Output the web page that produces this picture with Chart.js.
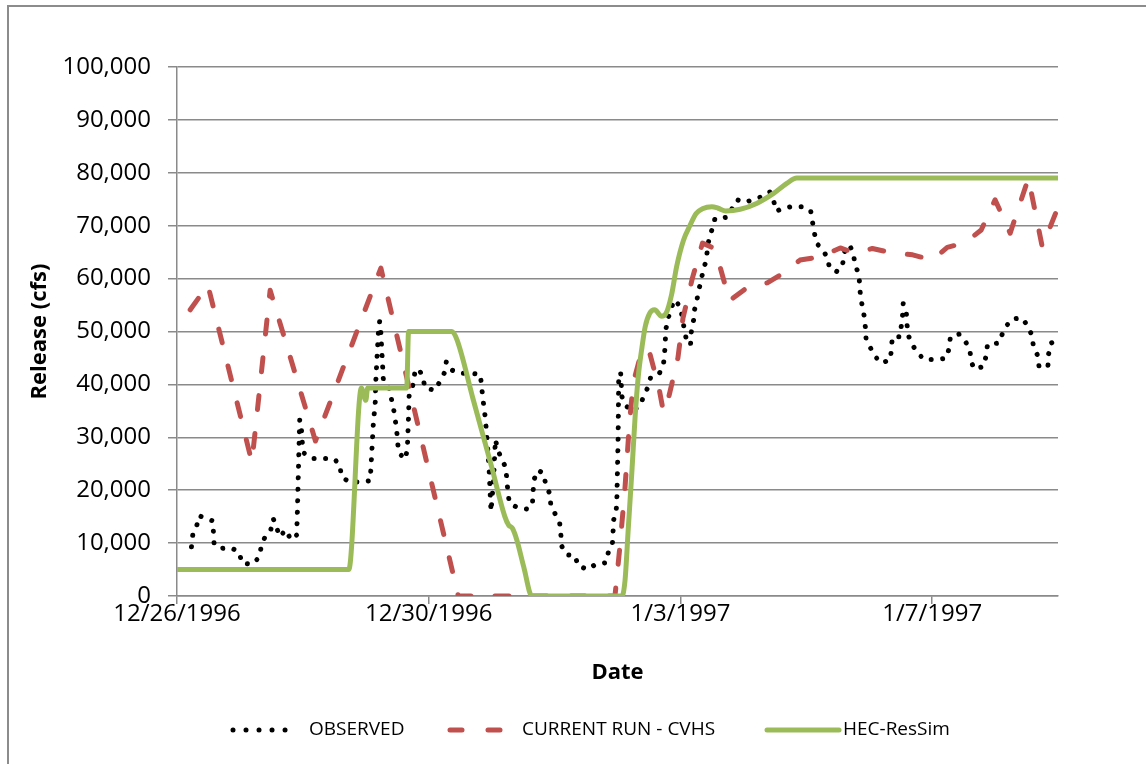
<!DOCTYPE html>
<html>
<head>
<meta charset="utf-8">
<script src="https://cdn.jsdelivr.net/npm/chart.js@4.4.0/dist/chart.umd.min.js"></script>
<style>
body { margin: 0; background: #fff; }
#wrap { position: relative; width: 1146px; height: 764px; overflow: hidden; background: #fff; }
#frame { position: absolute; left: 7px; top: 5px; width: 1200px; height: 900px;
         border-left: 2px solid #8c8c8c; border-top: 2px solid #8c8c8c; }
canvas { position: absolute; left: 0; top: 0; }
</style>
</head>
<body>
<div id="wrap">
  <div id="frame"></div>
  <canvas id="releaseChart" width="1146" height="764"></canvas>
</div>
<script>
// days after 12/26/1996, release in cfs
var xTickLabels = ['12/26/1996', '12/30/1996', '1/3/1997', '1/7/1997'];

var obsDays = [0.23, 0.25, 0.31, 0.35, 0.43, 0.57, 0.58, 0.59, 0.68, 0.86, 0.99, 1.03, 1.20, 1.31, 1.34, 1.40,
    1.49, 1.53, 1.58, 1.63, 1.73, 1.81, 1.90, 1.91, 1.93, 1.95, 1.97, 2.00, 2.02, 2.13, 2.30, 2.49, 2.59, 2.61,
    2.73, 2.92, 3.07, 3.09, 3.12, 3.15, 3.16, 3.18, 3.20, 3.22, 3.24, 3.26, 3.28, 3.37, 3.44, 3.49, 3.52, 3.62,
    3.66, 3.68, 3.69, 3.76, 3.78, 3.84, 3.91, 3.94, 4.10, 4.18, 4.25, 4.28, 4.35, 4.48, 4.67, 4.82, 4.86, 4.90,
    4.93, 4.96, 4.98, 4.99, 5.03, 5.06, 5.10, 5.17, 5.23, 5.24, 5.26, 5.28, 5.41, 5.59, 5.65, 5.66, 5.68, 5.74,
    5.83, 5.86, 5.93, 5.94, 6.01, 6.08, 6.10, 6.11, 6.19, 6.33, 6.37, 6.53, 6.65, 6.82, 6.86, 6.92, 6.94, 6.98,
    6.99, 7.01, 7.02, 7.05, 7.07, 7.12, 7.23, 7.37, 7.41, 7.49, 7.53, 7.67, 7.73, 7.75, 7.76, 7.77, 7.81, 7.90,
    8.00, 8.03, 8.09, 8.16, 8.17, 8.21, 8.22, 8.26, 8.29, 8.33, 8.36, 8.41, 8.43, 8.46, 8.50, 8.55, 8.74, 8.84,
    8.90, 9.03, 9.16, 9.30, 9.42, 9.48, 9.53, 9.60, 9.76, 9.95, 10.07, 10.10, 10.13, 10.16, 10.26, 10.34, 10.37,
    10.50, 10.58, 10.61, 10.68, 10.75, 10.77, 10.83, 10.85, 10.86, 10.89, 10.92, 10.94, 10.95, 11.02, 11.10,
    11.19, 11.34, 11.35, 11.37, 11.49, 11.51, 11.53, 11.54, 11.59, 11.60, 11.62, 11.68, 11.76, 11.87, 12.04,
    12.22, 12.27, 12.29, 12.43, 12.53, 12.60, 12.62, 12.67, 12.82, 12.86, 12.88, 13.06, 13.12, 13.19, 13.27,
    13.44, 13.52, 13.59, 13.61, 13.68, 13.70, 13.84, 13.85, 13.89, 14.00];
var obsFlow = [9300, 11500, 13100, 15200, 14800, 14200, 11800, 9800, 9000, 9100, 8300, 6200, 6000, 7400, 9500, 11200,
    12500, 14600, 13100, 11200, 12500, 10600, 11500, 14500, 24000, 33300, 32800, 27500, 27000, 26000, 26000, 26000, 24800, 22600,
    21600, 21500, 21800, 26000, 32600, 36500, 40800, 45400, 49700, 51900, 49700, 45200, 40800, 39300, 35500, 31500, 27200, 25800,
    27600, 34200, 38300, 40200, 42400, 43000, 41300, 39300, 38900, 40600, 42200, 44300, 42800, 42100, 42100, 41900, 37400, 33600,
    29200, 24000, 18500, 16000, 22000, 29600, 27500, 25700, 24100, 21900, 19700, 17600, 16700, 16400, 17800, 20000, 22200, 23800,
    23100, 20900, 19200, 17000, 15500, 13900, 11700, 9500, 7800, 7600, 5700, 5000, 6000, 6300, 8600, 10100, 14400, 16300,
    18300, 30000, 42100, 42200, 37700, 36100, 34900, 36100, 37700, 39600, 41500, 42200, 43700, 46200, 48400, 50500, 52700, 56000,
    54700, 52500, 48700, 47400, 49700, 52200, 53900, 55800, 57800, 59600, 61600, 63400, 65700, 67900, 69200, 71400, 71600, 73600,
    74900, 74400, 75000, 75500, 76400, 74700, 72700, 73200, 73600, 73600, 72800, 70600, 68600, 66700, 65500, 63800, 61900,
    61300, 62900, 65100, 66400, 64900, 62700, 61000, 58900, 56700, 54800, 52900, 50700, 48600, 46900, 45200,
    44000, 44700, 46800, 49000, 49000, 51100, 53100, 55300, 53600, 51400, 49300, 47600, 46100, 44700, 44700,
    44900, 46800, 49000, 49500, 48100, 46500, 44300, 42900, 43400, 45600, 47600, 47800, 49700, 51200, 52400,
    52500, 50900, 49200, 47000, 45400, 43200, 43500, 45700, 47800, 48500];

var cvhsDays = [0.21, 0.49, 1.19, 1.48, 2.20, 3.24, 4.47, 6.96, 7.04, 7.12, 7.19, 7.25, 7.36, 7.49, 7.57, 7.65,
    7.73, 7.81, 7.96, 8.04, 8.19, 8.35, 8.52, 8.63, 8.78, 9.08, 9.38, 9.67, 9.90, 10.22, 10.54, 10.78, 11.05,
    11.38, 11.69, 12.00, 12.24, 12.53, 12.78, 13.00, 13.24, 13.53, 13.75, 14.00];
var cvhsFlow = [54100, 58800, 25300, 57800, 29300, 62000, 0, 0, 9600, 20600, 32700, 40300, 45200, 46900, 43300, 39900,
    34800, 37400, 45000, 52500, 60100, 66700, 65800, 62200, 55800, 58500, 59200, 61300, 63500, 64100, 65800, 64800, 65700,
    64800, 64500, 63500, 65900, 66800, 69200, 74900, 68600, 79000, 66000, 73500];

var resSimDays = [0, 2.73, 2.93, 3.00, 3.03, 3.65, 3.68, 4.37, 4.45, 4.71, 5.00, 5.21, 5.27, 5.33, 5.40, 5.51, 5.64,
    7.07, 7.12, 7.17, 7.23, 7.28, 7.33, 7.39, 7.44, 7.51, 7.59, 7.70, 7.77, 7.86, 7.94, 8.05, 8.15, 8.25, 8.35,
    8.50, 8.60, 8.72, 8.95, 9.21, 9.48, 9.69, 9.85, 14.00];
var resSimFlow = [5000, 5000, 39300, 37000, 39300, 39300, 50000, 50000, 48400, 37000, 24400, 15000, 13400, 12800, 10600, 5500, 0,
    0, 3000, 12500, 23800, 33900, 41500, 47100, 50900, 53400, 54100, 52900, 53400, 57000, 62300, 67300, 70000, 72300, 73200,
    73600, 73300, 72800, 73100, 74200, 76100, 78000, 79000, 79000];

function toPoints(days, flow) {
    return days.map(function(d, i) { return { x: d, y: flow[i] }; });
}

var gridGrey = '#8a8a8a';
var textFont = 'Open Sans';

// legend drawn under the plot, Excel style
var bottomLegend = {
    id: 'bottomLegend',
    afterDraw: function(chart) {
        var ctx = chart.ctx;
        var y = 730;
        var spots = [
            { x0: 233, x1: 298, tx: 309, dash: [0.01, 13] },
            { x0: 450, x1: 500, tx: 522, dash: [12, 26] },
            { x0: 767, x1: 839, tx: 843, dash: [] }
        ];
        chart.data.datasets.forEach(function(ds, i) {
            var s = spots[i];
            ctx.save();
            ctx.strokeStyle = ds.borderColor;
            ctx.lineWidth = ds.borderWidth;
            ctx.lineCap = 'round';
            ctx.setLineDash(s.dash);
            ctx.beginPath();
            ctx.moveTo(s.x0, y);
            ctx.lineTo(s.x1, y);
            ctx.stroke();
            ctx.setLineDash([]);
            ctx.fillStyle = '#000';
            ctx.font = '19px "' + textFont + '"';
            ctx.textBaseline = 'middle';
            ctx.fillText(ds.label, s.tx, y);
            ctx.restore();
        });
    }
};

var ctx = document.getElementById('releaseChart').getContext('2d');
var releaseChart = new Chart(ctx, {
    type: 'line',
    data: {
        datasets: [{
            label: 'OBSERVED',
            data: toPoints(obsDays, obsFlow),
            borderColor: '#000000',
            borderWidth: 5,
            borderDash: [0.01, 11.5],
            borderCapStyle: 'round',
            borderJoinStyle: 'round',
            pointRadius: 0,
            tension: 0,
            order: 2
        }, {
            label: 'CURRENT RUN - CVHS',
            data: toPoints(cvhsDays, cvhsFlow),
            borderColor: '#C0504D',
            borderWidth: 5,
            borderDash: [14, 24],
            borderCapStyle: 'round',
            borderJoinStyle: 'round',
            pointRadius: 0,
            tension: 0,
            order: 1
        }, {
            label: 'HEC-ResSim',
            data: toPoints(resSimDays, resSimFlow),
            borderColor: '#9BBB59',
            borderWidth: 5,
            borderJoinStyle: 'round',
            cubicInterpolationMode: 'monotone',
            pointRadius: 0,
            order: 0
        }]
    },
    options: {
        responsive: false,
        animation: false,
        devicePixelRatio: 1,
        layout: {
            padding: { top: 67, right: 88, bottom: 0, left: 10 }
        },
        plugins: {
            legend: { display: false },
            tooltip: { enabled: false }
        },
        scales: {
            x: {
                type: 'linear',
                min: 0,
                max: 14,
                afterFit: function(scale) { scale.height = 168; },
                ticks: {
                    stepSize: 4,
                    includeBounds: false,
                    maxRotation: 0,
                    padding: -4,
                    color: '#000',
                    font: { family: textFont, size: 24 },
                    callback: function(value, index) { return xTickLabels[index]; }
                },
                grid: {
                    drawOnChartArea: false,
                    drawTicks: true,
                    tickLength: 8,
                    color: gridGrey,
                    lineWidth: 1.5
                },
                border: { color: gridGrey, width: 1.5 },
                title: {
                    display: true,
                    text: 'Date',
                    color: '#000',
                    font: { family: textFont, size: 22, weight: 'bold' },
                    padding: { top: 0, bottom: 78 }
                }
            },
            y: {
                min: 0,
                max: 100000,
                afterFit: function(scale) { scale.width = 167; },
                ticks: {
                    stepSize: 10000,
                    padding: 17,
                    color: '#000',
                    font: { family: textFont, size: 24 },
                    callback: function(value) { return value.toLocaleString('en-US'); }
                },
                grid: {
                    color: gridGrey,
                    lineWidth: 1.5,
                    tickLength: 9
                },
                border: { color: gridGrey, width: 1.5 },
                title: {
                    display: true,
                    text: 'Release (cfs)',
                    color: '#000',
                    font: { family: textFont, size: 22, weight: 'bold' },
                    padding: { top: 17, bottom: 0 }
                }
            }
        }
    },
    plugins: [bottomLegend]
});
</script>
</body>
</html>
